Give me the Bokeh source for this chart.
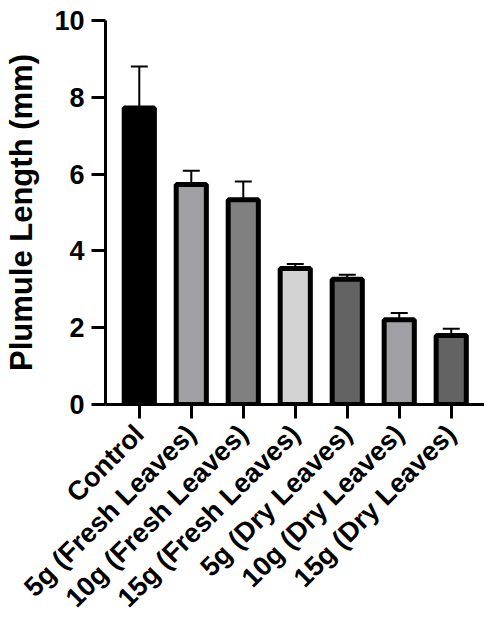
import numpy as np
from bokeh.plotting import figure
from bokeh.models import ColumnDataSource, Range1d, FixedTicker, Whisker, TeeHead
from bokeh.embed import file_html
from bokeh.resources import INLINE

categories = ["Control", "5g (Fresh Leaves)", "10g (Fresh Leaves)", "15g (Fresh Leaves)",
              "5g (Dry Leaves)", "10g (Dry Leaves)", "15g (Dry Leaves)"]
means = [7.72, 5.73, 5.33, 3.54, 3.26, 2.21, 1.80]
errors = [1.08, 0.36, 0.48, 0.12, 0.12, 0.17, 0.17]
colors = ["#000000", "#a0a0a4", "#808080", "#d3d3d3", "#636363", "#a0a0a4", "#636363"]
y_ticks = [0, 2, 4, 6, 8, 10]

xs = list(range(len(categories)))
src = ColumnDataSource(dict(
    x=xs, top=means, color=colors,
    upper=[m + e for m, e in zip(means, errors)],
))

FONT = "Liberation Sans"

p = figure(width=484, height=626, output_backend="svg", toolbar_location=None,
           x_range=Range1d(-0.65, 6.64), y_range=Range1d(0, 10),
           min_border_left=105, min_border_top=20, min_border_bottom=222, min_border_right=0)

p.vbar(x="x", top="top", width=0.58, bottom=0, source=src,
       fill_color="color", line_color="black", line_width=5)

wh = Whisker(base="x", lower="top", upper="upper", source=src,
             line_color="black", line_width=2,
             upper_head=TeeHead(size=17, line_width=2, line_color="black"),
             lower_head=None)
p.add_layout(wh)

p.xgrid.visible = False
p.ygrid.visible = False
p.outline_line_color = None
p.background_fill_color = "white"
p.border_fill_color = "white"

p.xaxis.ticker = FixedTicker(ticks=xs)
p.xaxis.major_label_overrides = {i: c for i, c in enumerate(categories)}
p.xaxis.major_label_orientation = np.pi / 4
p.yaxis.ticker = FixedTicker(ticks=y_ticks)

for ax in (p.xaxis, p.yaxis):
    ax.axis_line_width = 3
    ax.axis_line_color = "black"
    ax.major_tick_line_width = 3
    ax.major_tick_line_color = "black"
    ax.major_tick_out = 14
    ax.major_tick_in = 0
    ax.minor_tick_line_color = None
    ax.major_label_text_font = FONT
    ax.major_label_text_font_style = "bold"
    ax.major_label_text_color = "black"

p.yaxis.major_label_text_font_size = "27px"
p.yaxis.major_label_standoff = 7
p.xaxis.major_label_text_font_size = "27px"
p.xaxis.major_label_standoff = 11

p.yaxis.axis_label = "Plumule Length (mm)"
p.yaxis.axis_label_text_font = FONT
p.yaxis.axis_label_text_font_style = "bold"
p.yaxis.axis_label_text_font_size = "31px"
p.yaxis.axis_label_text_color = "black"
p.yaxis.axis_label_standoff = 12

open("out.html", "w").write(file_html(p, INLINE))
